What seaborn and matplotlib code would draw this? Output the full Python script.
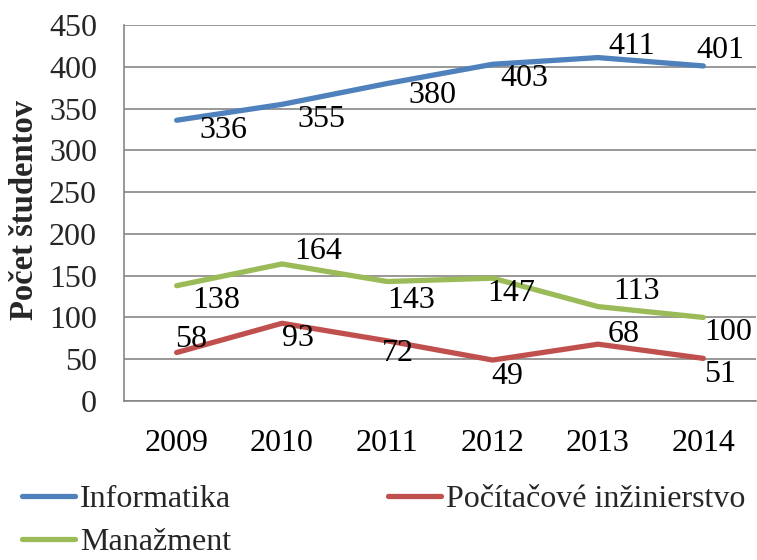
import matplotlib
matplotlib.use("Agg")
import matplotlib.pyplot as plt
import seaborn as sns
import pandas as pd
import numpy as np

years = ["2009", "2010", "2011", "2012", "2013", "2014"]
informatika = [336, 355, 380, 403, 411, 401]
pocitacove = [58, 93, 72, 49, 68, 51]
manazment = [138, 164, 143, 147, 113, 100]
series_names = ["Informatika", "Počítačové inžinierstvo", "Manažment"]
y_ticks = [0, 50, 100, 150, 200, 250, 300, 350, 400, 450]
y_label = "Počet študentov"

colors = {"Informatika": "#4F81BD",
          "Počítačové inžinierstvo": "#C0504D",
          "Manažment": "#9BBB59"}

# label offsets in pixels (dx right, dy down)
label_offsets = {
    "Informatika": [(47, 10), (39, 15), (45, 12), (32, 14), (34, -11), (17, -15)],
    "Počítačové inžinierstvo": [(14, -13), (16, 15), (11, 13), (15, 16), (26, -10), (17, 16)],
    "Manažment": [(40, 15), (36, -12), (24, 19), (19, 15), (39, -15), (25, 15)],
}

values = {"Informatika": informatika,
          "Počítačové inžinierstvo": pocitacove,
          "Manažment": manazment}

rows = []
for name in series_names:
    for y, v in zip(years, values[name]):
        rows.append({"Rok": y, "Počet": v, "Odbor": name})
df = pd.DataFrame(rows)

sns.set_theme(style="white")
plt.rcParams["font.family"] = ["Liberation Serif", "DejaVu Serif"]
FS = 23
GRID = "#868686"

fig = plt.figure(figsize=(7.57, 5.60), dpi=100)
ax = fig.add_axes([124 / 757, 1 - 401 / 560, 632 / 757, (401 - 25) / 560])

sns.lineplot(data=df, x="Rok", y="Počet", hue="Odbor", palette=colors,
             hue_order=series_names, linewidth=3.8, ax=ax, legend=False,
             sort=False)
for line in ax.get_lines():
    line.set_solid_capstyle("round")

ax.set_xlim(-0.5, len(years) - 0.5)
ax.set_ylim(0, 450)
ax.set_yticks(y_ticks)
ax.set_yticklabels([str(t) for t in y_ticks], fontsize=FS)
ax.set_xticks(range(len(years)))
ax.set_xticklabels(years, fontsize=FS)
ax.set_xticks(np.arange(-0.5, len(years), 1.0), minor=True)
ax.tick_params(axis="x", which="major", length=0, pad=20, colors="black")
ax.tick_params(axis="x", which="minor", length=9 * 0.72, width=1.2, color=GRID, direction="out")
ax.tick_params(axis="y", which="major", length=9 * 0.72, width=1.2, color=GRID, pad=13, direction="out")
ax.yaxis.grid(True, color=GRID, linewidth=1.2)
ax.xaxis.grid(False)
ax.set_axisbelow(True)
for s in ["top", "right"]:
    ax.spines[s].set_visible(False)
for s in ["left", "bottom"]:
    ax.spines[s].set_color(GRID)
    ax.spines[s].set_linewidth(1.2)
ax.set_xlabel("")
ax.set_ylabel(y_label, fontsize=23.5, fontweight="bold")
ax.yaxis.label.set_verticalalignment("center")
ax.yaxis.set_label_coords((24 - 124) / 632, (401 - 210.5) / 376)

for name in series_names:
    for i, v in enumerate(values[name]):
        dx, dy = label_offsets[name][i]
        ax.annotate(str(v), (i, v), xytext=(dx, -dy), textcoords="offset pixels",
                    ha="center", va="center", fontsize=FS, color="black")

handles = [plt.Line2D([], [], color=colors[n], linewidth=3.8, solid_capstyle="round")
           for n in series_names]
order = [0, 2, 1]
fig.legend([handles[i] for i in order], [series_names[i] for i in order],
           loc="upper left", bbox_to_anchor=(22 / 757, 1 - 485 / 560),
           ncol=2, frameon=False, fontsize=FS, handlelength=1.66,
           handletextpad=0.16, columnspacing=4.9, labelspacing=0.42,
           borderpad=0, borderaxespad=0)

fig.savefig("out.png", dpi=100)
